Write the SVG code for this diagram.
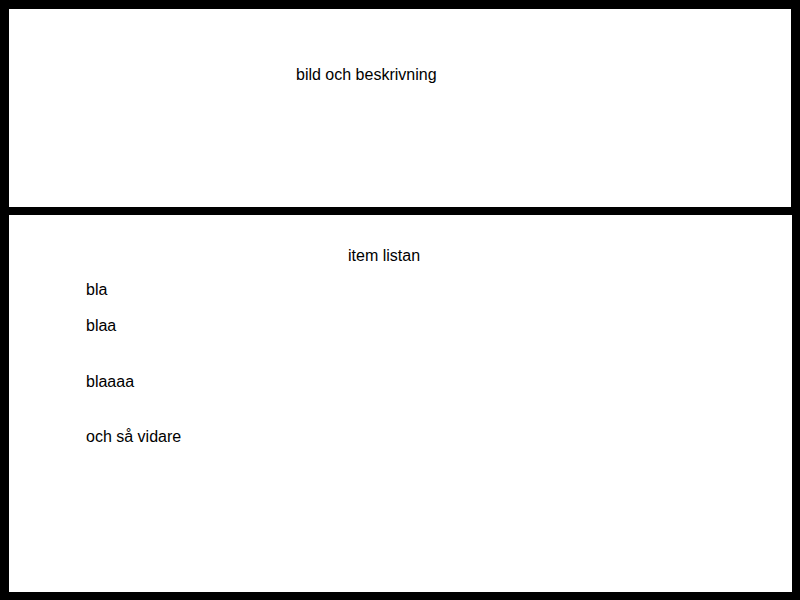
<svg xmlns="http://www.w3.org/2000/svg" width="800" height="600" viewBox="0 0 800 600">
<style>
.panel{fill:#ffffff;stroke:none}
.t{font-family:"Liberation Sans",Arial,sans-serif;font-size:16px;fill:#000000}
</style>
<rect x="0" y="0" width="800" height="600" fill="#000000"/>
<g id="top-panel">
<rect class="panel" x="9" y="9" width="782" height="198"/>
<text class="t" x="296" y="80">bild och beskrivning</text>
</g>
<g id="bottom-panel">
<rect class="panel" x="9" y="215" width="783" height="377"/>
<text class="t" x="348" y="261">item listan</text>
<text class="t" x="86" y="295">bla</text>
<text class="t" x="86" y="331">blaa</text>
<text class="t" x="86" y="387">blaaaa</text>
<text class="t" x="86" y="442">och så vidare</text>
</g>
<g id="connectors"/>
</svg>
